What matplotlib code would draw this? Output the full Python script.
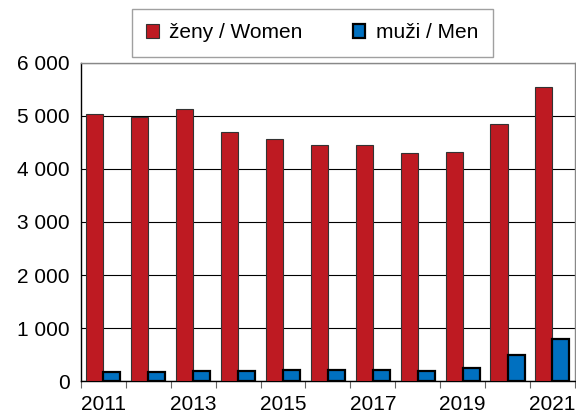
import matplotlib
matplotlib.use("Agg")
import matplotlib.pyplot as plt
import numpy as np
from matplotlib.ticker import FuncFormatter, FixedLocator

years = [2011, 2012, 2013, 2014, 2015, 2016, 2017, 2018, 2019, 2020, 2021]
women = [5030, 4990, 5140, 4705, 4575, 4450, 4460, 4310, 4315, 4845, 5555]
men = [176, 176, 181, 193, 212, 212, 212, 193, 250, 486, 800]
tick_years = [2011, 2013, 2015, 2017, 2019, 2021]
yticks = [0, 1000, 2000, 3000, 4000, 5000, 6000]

plt.rcParams['font.family'] = ['Liberation Sans', 'DejaVu Sans']

fig = plt.figure(figsize=(5.76, 4.16), dpi=100)
ax = fig.add_axes([0.1406, 0.0841, 0.8574, 0.7645])

x = np.arange(len(years))
w = 0.38
ax.bar(x - w / 2, women, width=w, color='#BE1A22', edgecolor='#333333', linewidth=0.8,
       label='ženy / Women', zorder=3)
ax.bar(x + w / 2, men, width=w, color='#0070C0', edgecolor='black', linewidth=1.6,
       label='muži / Men', zorder=3)

ax.set_xlim(-0.5, len(years) - 0.5)
ax.set_ylim(0, 6000)
ax.yaxis.set_major_locator(FixedLocator(yticks))
ax.yaxis.set_major_formatter(FuncFormatter(lambda v, p: f"{int(v):,}".replace(",", " ")))
ax.grid(axis='y', color='black', linewidth=0.8, zorder=0)
ax.tick_params(axis='y', length=0, labelsize=15, pad=8)

ax.set_xticks([years.index(yv) for yv in tick_years])
ax.set_xticklabels([str(yv) for yv in tick_years])
ax.set_xticks(np.arange(len(years) + 1) - 0.5, minor=True)
ax.tick_params(axis='x', which='major', length=0, labelsize=15, pad=10)
ax.tick_params(axis='x', which='minor', length=5, width=0.8, color='#666666')

for s in ['top', 'right']:
    ax.spines[s].set_color('#888888')
    ax.spines[s].set_linewidth(1.0)
for s in ['left', 'bottom']:
    ax.spines[s].set_color('black')
    ax.spines[s].set_linewidth(1.0)

leg = fig.legend(loc='center', bbox_to_anchor=(0.542, 0.921), ncol=2, fontsize=15,
                 frameon=True, fancybox=False, edgecolor='#888888', handlelength=0.6,
                 handleheight=0.6, handletextpad=0.5, columnspacing=2.4,
                 borderpad=0.7, borderaxespad=0)
leg.get_frame().set_linewidth(1.0)

fig.savefig('out.png', dpi=100)
